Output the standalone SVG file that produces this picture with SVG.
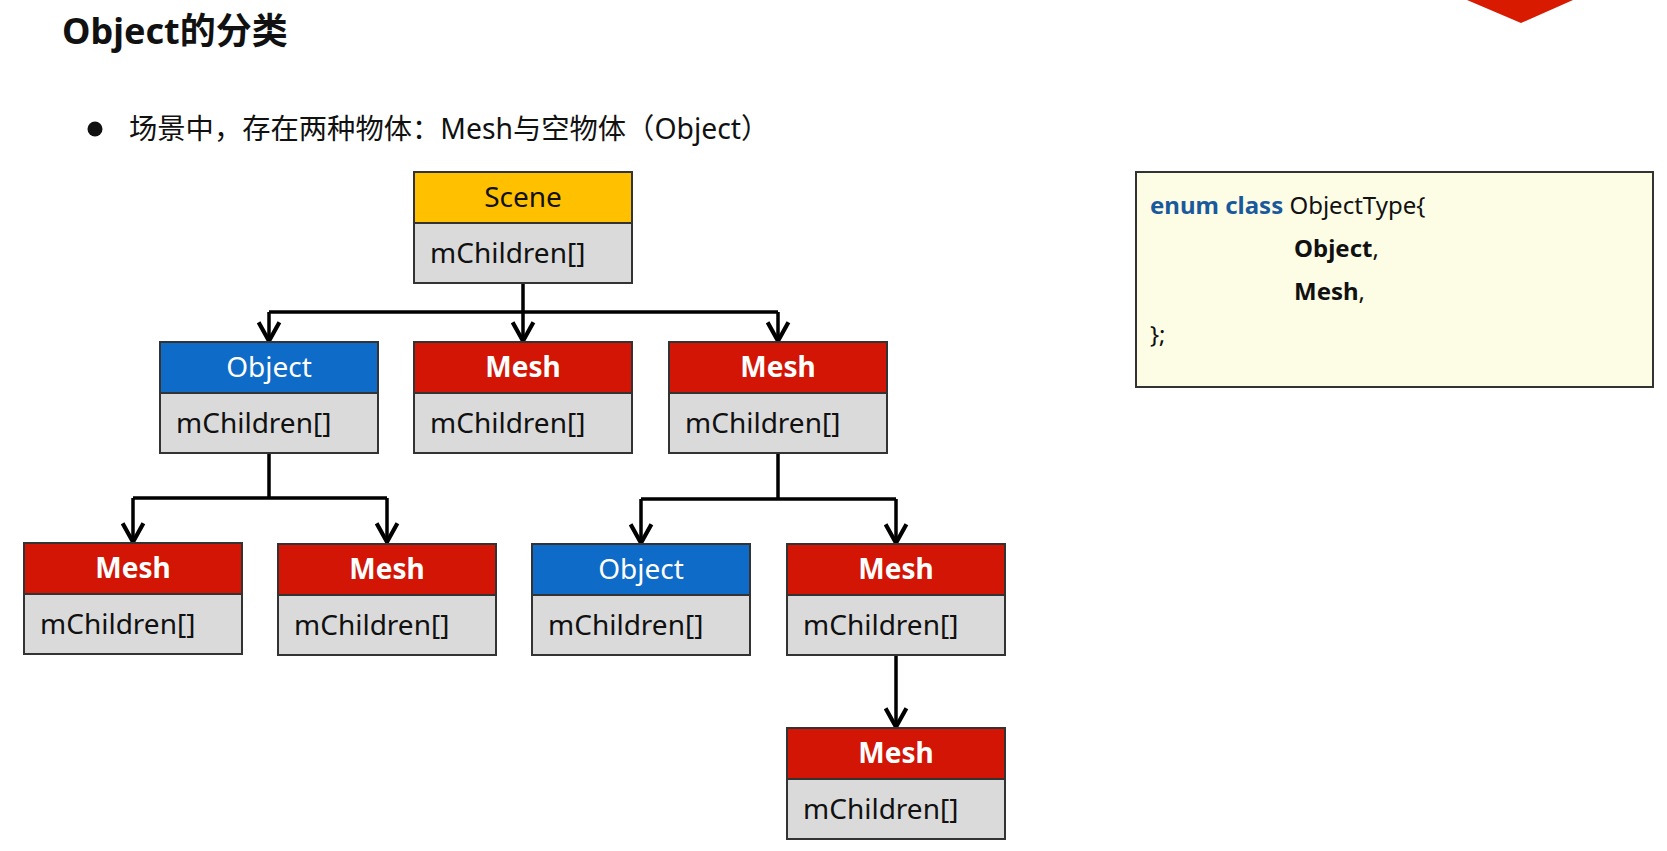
<svg xmlns="http://www.w3.org/2000/svg" width="1667" height="851" viewBox="0 0 1667 851">
<style>
text{font-family:"Noto Sans","Noto Sans CJK SC",sans-serif}
.frame{fill:none;stroke:#333;stroke-width:2}
.body{fill:#dadada}
.hd-mesh{fill:#d21505}
.hd-obj{fill:#0f6bc8}
.hd-scene{fill:#ffc000}
.sep{stroke:#333;stroke-width:2}
.ht{font-size:28px;text-anchor:middle}
.mesh-t{fill:#fff;font-weight:bold}
.obj-t{fill:#fff}
.scene-t{fill:#111}
.bt{font-size:28px;fill:#111}
.con{fill:none;stroke:#000;stroke-width:3.5}
</style>
<defs>
<marker id="arr" markerUnits="userSpaceOnUse" markerWidth="25" markerHeight="25" refX="22" refY="12" orient="auto" viewBox="0 0 24 24">
<path d="M4,2 L22,12 L4,22" fill="none" stroke="#000" stroke-width="4"/>
</marker>
<g id="proto-body">
<rect class="body" x="0" y="51" width="218" height="60"/>
<line class="sep" x1="0" y1="51" x2="218" y2="51"/>
<rect class="frame" x="0" y="0" width="218" height="111"/>
<text class="bt" x="16" y="91">mChildren[]</text>
</g>
</defs>
<rect width="1667" height="851" fill="#fff"/>
<polygon points="1467,0 1573,0 1521,23" fill="#d71a00"/>
<text x="62" y="44" font-size="36" font-weight="bold" fill="#111">Object的分类</text>
<circle cx="95" cy="129" r="7.5" fill="#111"/>
<text x="129" y="139" font-size="28.3" fill="#111">场景中，存在两种物体：Mesh与空物体（Object）</text>

<g id="connectors">
<path class="con" d="M523,282 L523,341" marker-end="url(#arr)"/>
<path class="con" d="M269,312 L778,312"/>
<path class="con" d="M269,312 L269,341" marker-end="url(#arr)"/>
<path class="con" d="M778,312 L778,341" marker-end="url(#arr)"/>
<path class="con" d="M269,453 L269,498 M133,498 L387,498"/>
<path class="con" d="M133,498 L133,542" marker-end="url(#arr)"/>
<path class="con" d="M387,498 L387,542" marker-end="url(#arr)"/>
<path class="con" d="M778,453 L778,499 M641,499 L896,499"/>
<path class="con" d="M641,499 L641,543" marker-end="url(#arr)"/>
<path class="con" d="M896,499 L896,543" marker-end="url(#arr)"/>
<path class="con" d="M896,655 L896,727" marker-end="url(#arr)"/>
</g>

<g id="scene" transform="translate(414,172)">
<rect class="hd-scene" x="0" y="0" width="218" height="51"/>
<use href="#proto-body"/>
<text class="ht scene-t" x="109" y="35">Scene</text>
</g>
<g id="object1" transform="translate(160,342)">
<rect class="hd-obj" x="0" y="0" width="218" height="51"/>
<use href="#proto-body"/>
<text class="ht obj-t" x="109" y="35">Object</text>
</g>
<g id="mesh1" transform="translate(414,342)">
<rect class="hd-mesh" x="0" y="0" width="218" height="51"/>
<use href="#proto-body"/>
<text class="ht mesh-t" x="109" y="35">Mesh</text>
</g>
<g id="mesh2" transform="translate(669,342)">
<rect class="hd-mesh" x="0" y="0" width="218" height="51"/>
<use href="#proto-body"/>
<text class="ht mesh-t" x="109" y="35">Mesh</text>
</g>
<g id="mesh3" transform="translate(24,543)">
<rect class="hd-mesh" x="0" y="0" width="218" height="51"/>
<use href="#proto-body"/>
<text class="ht mesh-t" x="109" y="35">Mesh</text>
</g>
<g id="mesh4" transform="translate(278,544)">
<rect class="hd-mesh" x="0" y="0" width="218" height="51"/>
<use href="#proto-body"/>
<text class="ht mesh-t" x="109" y="35">Mesh</text>
</g>
<g id="object2" transform="translate(532,544)">
<rect class="hd-obj" x="0" y="0" width="218" height="51"/>
<use href="#proto-body"/>
<text class="ht obj-t" x="109" y="35">Object</text>
</g>
<g id="mesh5" transform="translate(787,544)">
<rect class="hd-mesh" x="0" y="0" width="218" height="51"/>
<use href="#proto-body"/>
<text class="ht mesh-t" x="109" y="35">Mesh</text>
</g>
<g id="mesh6" transform="translate(787,728)">
<rect class="hd-mesh" x="0" y="0" width="218" height="51"/>
<use href="#proto-body"/>
<text class="ht mesh-t" x="109" y="35">Mesh</text>
</g>

<g id="enum-box">
<rect x="1136" y="172" width="517" height="215" fill="#fdfde6" stroke="#333" stroke-width="2"/>
<text x="1150" y="214" font-size="24"><tspan fill="#1a5a9c" font-weight="bold">enum class</tspan><tspan fill="#111"> ObjectType{</tspan></text>
<text x="1294" y="257" font-size="24" fill="#111"><tspan font-weight="bold">Object</tspan>,</text>
<text x="1294" y="300" font-size="24" fill="#111"><tspan font-weight="bold">Mesh</tspan>,</text>
<text x="1150" y="343" font-size="24" fill="#111">};</text>
</g>
</svg>
